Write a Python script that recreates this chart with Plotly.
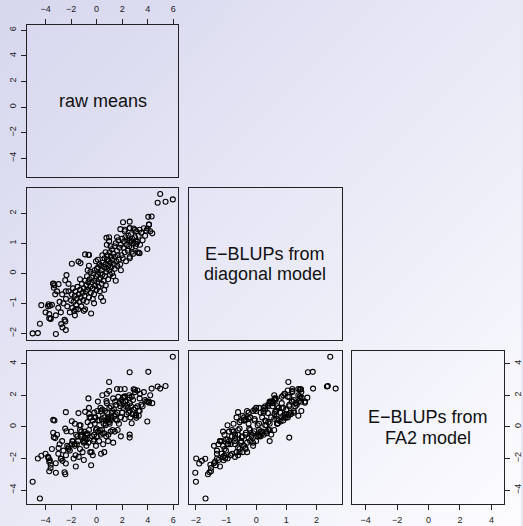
import base64
import plotly.graph_objects as go

# ---- data: (raw means, E-BLUPs diagonal, E-BLUPs FA2) per genotype ----
raw_means = [
    5.97, 4.98, 4.78, 5.40, -5.01, -4.60, -4.44, -3.19, -4.33, 4.05,
    4.31, 3.97, 4.36, 2.07, 2.59, 0.51, -0.43, 2.59, 0.98, -3.71,
    -2.51, -2.45, -1.63, -3.40, -3.30, -2.41, -0.64, 3.90, 3.00, 3.30,
    -2.40, -2.30, -2.20, -2.10, -2.00, -1.95, -1.90, -1.85, -1.80, -1.75,
    -1.70, -1.65, -1.60, -1.55, -1.50, -1.45, -1.40, -1.35, -1.30, -1.25,
    -1.20, -1.15, -1.10, -1.05, -1.00,
    -0.95, -0.90, -0.85, -0.80, -0.78, -0.75, -0.70, -0.65, -0.60, -0.55,
    -0.50, -0.48, -0.45, -0.40, -0.35, -0.30, -0.25, -0.20, -0.18, -0.15,
    -0.10, -0.05, 0.00, 0.02, 0.05, 0.10, 0.12, 0.15, 0.20, 0.22,
    0.25, 0.30, 0.32, 0.35, 0.40, 0.42, 0.45, 0.48,
    0.55, 0.60, 0.62, 0.65, 0.70, 0.72, 0.75, 0.80, 0.82, 0.85,
    0.90, 0.92, 0.95, 1.00, 1.02, 1.05, 1.10, 1.12, 1.15, 1.20,
    1.22, 1.25, 1.30, 1.35, 1.40, 1.42, 1.45, 1.50, 1.55, 1.60,
    1.62, 1.65, 1.70, 1.75, 1.80, 1.85, 1.90, 1.95,
    2.00, 2.05, 2.10, 2.15, 2.20, 2.25, 2.30, 2.35, 2.40, 2.45,
    2.50, 2.55, 2.60, 2.65, 2.70, 2.75, 2.80, 2.85, 2.90, 3.00,
    3.05, 3.10, 3.20, 3.30, 3.40, 3.50,
    3.60, 3.70, 3.80, 4.10, 4.20,
    -2.60, -2.70, -2.80, -2.90, -3.00, -3.10, -3.20, -3.50, -3.60, -3.80,
    -4.00,
    -3.76, -3.66, -3.71, -3.60, -2.77, -2.67, -2.41, -3.24, -3.35, -3.40,
    -2.98, -2.36, -2.46, -1.94, -1.42, -1.26, -0.90, -0.59,
    0.77, 0.98, 1.86, 2.22, 2.59, 2.90, 3.37, 3.06, 3.11, 2.75,
    2.59, 3.37, 3.99, 4.10,
    -0.30, 0.60, 1.30, -1.00, 0.10, -0.60, 0.80, 1.60, 2.20, -0.20,
    0.35, 1.90, -1.30, 0.70, -0.05, 1.10, -0.90, 2.60, -1.70, 0.45,
    1.50, -2.20, 0.90, 3.20, -0.70,
]
eblup_diag = [
    2.46, 2.64, 2.35, 2.38, -2.00, -1.99, -1.68, -2.02, -1.06, 1.88,
    1.89, 0.81, 1.33, 1.70, 1.72, -0.92, -1.34, 1.10, 1.07, -1.50,
    -1.55, -1.60, -1.20, -0.35, -0.40, -0.60, 0.62, 1.42, 1.45, 0.68,
    -0.85, -1.10, -0.60, -1.30, -0.90, -0.70, -1.15, -0.50, -0.95, -1.25,
    -0.75, -0.60, -1.05, -0.85, -0.45, -1.20, -0.70, -0.95, -0.55, -0.80,
    -1.10, -0.35, -0.65, -0.90, -0.50,
    -0.75, -0.25, -0.60, -0.40, -0.95, -0.10, -0.55, -0.30, -0.80, -0.20,
    -0.45, 0.05, -0.65, -0.30, -0.15, -0.50, 0.00, -0.70, -0.25, 0.10,
    -0.40, -0.10, -0.55, 0.15, -0.30, -0.05, 0.20, -0.45, -0.20, 0.30,
    -0.60, 0.00, -0.15, 0.25, -0.35, 0.10, -0.05, 0.35,
    -0.25, 0.20, 0.50, -0.10, 0.30, -0.40, 0.05, 0.45, 0.15, 0.60,
    -0.20, 0.25, 0.40, 0.10, 0.70, -0.05, 0.35, 0.55, 0.20, 0.80,
    0.00, 0.45, 0.65, 0.30, 0.90, 0.15, 0.55, 1.00, 0.40, 0.75,
    0.25, 0.60, 1.10, 0.45, 0.85, 0.30, 0.95, 0.60,
    1.15, 0.50, 0.85, 1.05, 0.70, 1.20, 0.40, 0.95, 1.10, 0.75,
    1.25, 0.90, 0.55, 1.05, 1.30, 0.85, 1.15, 0.65, 1.00, 1.20,
    0.90, 1.40, 1.05, 1.25, 0.95, 1.35,
    1.10, 1.50, 1.25, 1.62, 1.40,
    -1.00, -0.70, -1.30, -0.95, -1.15, -0.60, -1.40, -1.05, -1.50, -1.10,
    -1.30,
    -1.03, -1.08, -1.36, -1.52, -1.69, -1.80, -1.89, -0.70, -0.48, -0.34,
    -0.36, -0.06, -0.23, 0.32, 0.39, 0.34, 0.63, 0.61,
    1.18, 1.20, 1.47, 1.45, 1.51, 1.49, 1.45, 1.07, 0.98, 0.72,
    0.50, 0.67, 1.49, 1.62,
    -0.85, -0.55, -0.10, -1.25, 0.45, 0.25, 0.95, 1.20, 1.40, -1.00,
    -0.80, 0.10, -0.20, 0.70, 0.40, 0.90, -1.20, 1.50, -1.40, 0.60,
    -0.25, -0.35, 0.45, 0.70, 0.10,
]
eblup_fa2 = [
    4.44, 2.42, 2.55, 2.59, -3.47, -2.00, -4.53, -2.90, -1.83, 3.48,
    2.42, 0.34, 1.50, 1.85, 3.46, -1.10, -2.43, -0.68, 2.84, -2.81,
    -2.87, -3.00, -2.51, 0.44, 0.40, 0.93, 1.80, 1.62, 2.35, 0.70,
    -1.80, -1.20, -1.30, -1.50, -0.30, -1.10, -0.90, -0.90, -2.00, -1.10,
    0.20, -1.80, -0.50, -1.10, -0.60, -0.90, -1.90, 0.10, -1.40, -0.60,
    -0.30, -0.50, -1.60, -0.90, -1.00,
    -0.30, -0.70, -0.50, -1.20, -0.80, -0.40, 0.30, -1.00, -0.20, 0.60,
    -1.60, 0.10, 0.60, -1.60, -0.60, 0.40, -0.90, -0.50, 0.90, 0.20,
    0.60, -1.20, -0.10, -0.60, 1.00, 0.40, -0.30, 0.70, -0.90, 0.40,
    -0.20, 1.20, -0.50, 1.00, 0.50, -0.20, 1.10, -0.40,
    0.20, -0.40, 0.60, 1.00, 0.10, 0.40, -0.60, 1.50, 0.90, 0.50,
    0.60, -0.50, 0.30, 1.20, 0.20, 0.50, -0.30, 1.30, 0.60, 0.90,
    1.00, -0.20, 1.80, 1.10, 0.70, -0.30, 1.60, 0.80, 1.40, 0.40,
    0.90, -0.20, 1.90, 0.20, 1.50, 1.30, 0.60, 1.70,
    0.90, 1.60, 1.20, 1.90, 0.50, 1.60, 1.30, 0.80, 1.40, 1.20,
    0.90, 2.00, 1.50, 0.60, 1.30, 1.90, 0.80, 1.70, 1.10, 2.20,
    1.20, 0.70, 2.30, 1.00, 2.10, 1.40,
    1.30, 2.20, 1.70, 1.60, 2.00,
    -1.50, -0.90, -2.00, -1.10, -1.70, -0.50, -2.30, -1.40, -2.60, -1.90,
    -1.70,
    -1.98, -2.11, -2.20, -2.40, -2.02, -2.15, -2.32, -0.71, -0.66, -0.37,
    -1.34, -0.28, -0.11, 0.36, 0.87, 0.10, 0.95, 0.82,
    1.63, 2.27, 2.38, 1.93, 1.85, 2.38, 1.80, 0.74, 0.57, 0.23,
    -0.49, 1.00, 1.59, 1.53,
    -1.80, -1.60, -1.00, -2.10, 1.60, 1.20, 2.10, 2.40, 2.40, -0.80,
    -1.70, -0.60, -0.20, 0.20, -0.20, 0.40, -0.90, 1.00, -1.20, 2.00,
    0.50, -1.40, -0.90, 1.30, -0.50,
]

labels = ["raw means", "E\u2212BLUPs from\ndiagonal model", "E\u2212BLUPs from\nFA2 model"]
ranges = {"raw": [-5.46, 6.40], "diag": [-2.22, 2.84], "fa2": [-4.88, 4.80]}
ticks = {"raw": [-4, -2, 0, 2, 4, 6], "diag": [-2, -1, 0, 1, 2], "fa2": [-4, -2, 0, 2, 4]}

W, H = 523, 526
cols = [(27, 179), (190, 343), (353, 506)]
rows = [(25, 177), (188, 340), (351, 504)]

def xdom(c):
    return [cols[c][0] / W, cols[c][1] / W]

def ydom(r):
    return [1 - rows[r][1] / H, 1 - rows[r][0] / H]

FONT = "Liberation Sans, Arial, Helvetica, sans-serif"
tickfont = dict(family=FONT, size=9, color="#1a1a1a")

fig = go.Figure()

panels = [
    (1, 0, 0, "raw", "raw"),
    (2, 1, 0, "raw", "diag"),
    (3, 2, 0, "raw", "fa2"),
    (4, 1, 1, "diag", "diag"),
    (5, 2, 1, "diag", "fa2"),
    (6, 2, 2, "fa2", "fa2"),
]
data = {"raw": raw_means, "diag": eblup_diag, "fa2": eblup_fa2}

layout_axes = {}
for idx, r, c, xv, yv in panels:
    sfx = "" if idx == 1 else str(idx)
    xa = dict(domain=xdom(c), range=ranges[xv], anchor=f"y{sfx}",
              showline=True, mirror=True, linecolor="#222", linewidth=1,
              showgrid=False, zeroline=False, tickfont=tickfont,
              ticks="", showticklabels=False, fixedrange=True)
    ya = dict(domain=ydom(r), range=ranges[yv], anchor=f"x{sfx}",
              showline=True, mirror=True, linecolor="#222", linewidth=1,
              showgrid=False, zeroline=False, tickfont=tickfont,
              ticks="", showticklabels=False, fixedrange=True)
    if r == 0 and c == 0:
        xa.update(side="top", ticks="outside", ticklen=5, tickcolor="#222",
                  showticklabels=True, tickvals=ticks[xv], ticklabelstandoff=3)
    if r == 2:
        xa.update(side="bottom", ticks="outside", ticklen=5, tickcolor="#222",
                  showticklabels=True, tickvals=ticks[xv], ticklabelstandoff=2)
    if c == 0:
        ya.update(side="left", ticks="outside", ticklen=5, tickcolor="#222",
                  showticklabels=True, tickvals=ticks[yv], tickangle=-90,
                  ticklabelstandoff=1)
    if r == 2 and c == 2:
        ya.update(side="right", ticks="outside", ticklen=5, tickcolor="#222",
                  showticklabels=True, tickvals=ticks[yv], tickangle=-90,
                  ticklabelstandoff=0)
    layout_axes["xaxis" + sfx] = xa
    layout_axes["yaxis" + sfx] = ya

    if xv != yv:
        fig.add_trace(go.Scatter(
            x=data[xv], y=data[yv], mode="markers",
            xaxis=f"x{sfx}", yaxis=f"y{sfx}",
            marker=dict(symbol="circle-open", size=5, color="#000",
                        line=dict(width=1.1, color="#000")),
            showlegend=False, hoverinfo="skip"))
    else:
        fig.add_trace(go.Scatter(x=[], y=[], mode="markers",
                                 xaxis=f"x{sfx}", yaxis=f"y{sfx}",
                                 showlegend=False, hoverinfo="skip"))
        lab = labels[["raw", "diag", "fa2"].index(xv)].split("\n")
        n = len(lab)
        for k, line in enumerate(lab):
            off = (k - (n - 1) / 2) * 20
            fig.add_annotation(
                text=line, showarrow=False,
                xref=f"x{sfx} domain", yref=f"y{sfx} domain",
                x=0.5, y=0.5 - off / 152, xanchor="center", yanchor="middle",
                font=dict(family=FONT, size=18, color="#111"))

svg = (f'<svg xmlns="http://www.w3.org/2000/svg" width="{W}" height="{H}">'
       '<defs><linearGradient id="g" x1="0" y1="0" x2="1" y2="1">'
       '<stop offset="0" stop-color="#d6d6ee"/><stop offset="1" stop-color="#fcfcff"/>'
       '</linearGradient></defs>'
       f'<rect width="{W}" height="{H}" fill="url(#g)"/></svg>')
src = "data:image/svg+xml;base64," + base64.b64encode(svg.encode()).decode()

fig.update_layout(
    width=W, height=H, margin=dict(l=0, r=0, t=0, b=0),
    paper_bgcolor="#e8e8f5", plot_bgcolor="rgba(0,0,0,0)",
    images=[dict(source=src, xref="paper", yref="paper", x=0, y=1,
                 sizex=1, sizey=1, xanchor="left", yanchor="top",
                 sizing="stretch", layer="below")],
    **layout_axes,
)

fig.write_html("out.html", config={"displayModeBar": False},
               post_script="document.body.style.margin='0px';document.body.style.padding='0px';")
